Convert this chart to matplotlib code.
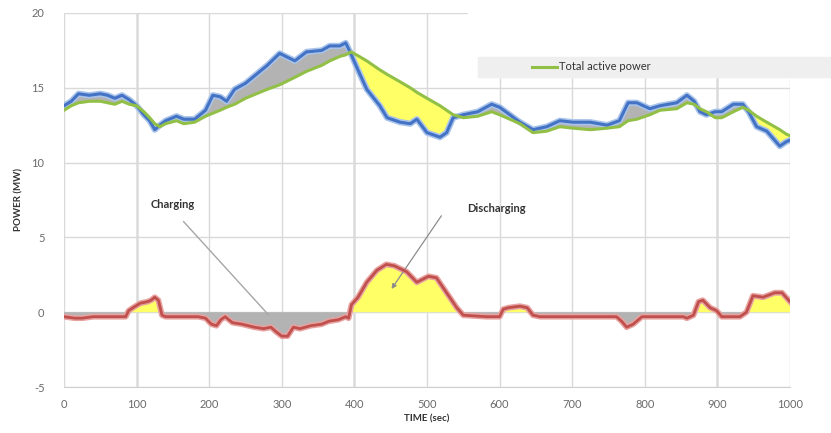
"""Total active power vs actual power with battery charge/discharge (recreated chart)."""
import matplotlib

matplotlib.use("Agg")
import matplotlib.pyplot as plt
import numpy as np
from matplotlib.patches import Rectangle

plt.rcParams["font.family"] = ["Lato", "DejaVu Sans"]
plt.rcParams["axes.unicode_minus"] = False

# upper panel: actual (blue) and smoothed total active power (green), same time base
time_up = [0, 10, 20, 35, 50, 60, 70, 80, 90, 100, 110, 118, 125, 132, 140, 155, 165,
           180, 195, 205, 215, 224, 235, 250, 265, 280, 297, 318, 334, 355, 366, 380,
           388, 395, 403, 417, 435, 445, 463, 477, 486, 500, 518, 527, 536, 550, 570,
           589, 600, 628, 646, 665, 683, 701, 725, 748, 765, 777, 789, 807, 821, 844,
           858, 868, 876, 885, 897, 906, 922, 935, 943, 954, 968, 986, 995, 1000]
actual_power = [13.8, 14.1, 14.6, 14.5, 14.6, 14.5, 14.3, 14.5, 14.2, 13.8, 13.2, 12.8,
                12.2, 12.5, 12.8, 13.1, 12.9, 12.9, 13.5, 14.5, 14.4, 14.1, 14.9, 15.3,
                15.9, 16.5, 17.3, 16.8, 17.4, 17.5, 17.8, 17.8, 18.0, 17.3, 16.4, 14.9,
                13.8, 13.0, 12.7, 12.6, 12.9, 12.0, 11.7, 12.0, 13.0, 13.2, 13.4, 13.9,
                13.7, 12.7, 12.2, 12.4, 12.8, 12.7, 12.7, 12.5, 12.8, 14.0, 14.0, 13.6,
                13.8, 14.0, 14.5, 14.1, 13.4, 13.2, 13.4, 13.4, 13.9, 13.9, 13.4, 12.4,
                12.1, 11.1, 11.4, 11.5]
total_active = [13.5, 13.8, 14.0, 14.1, 14.1, 14.0, 13.9, 14.1, 13.9, 13.8, 13.4, 13.0,
                12.6, 12.4, 12.6, 12.8, 12.6, 12.7, 13.1, 13.3, 13.5, 13.7, 13.9, 14.3,
                14.6, 14.9, 15.2, 15.7, 16.1, 16.5, 16.8, 17.1, 17.2, 17.4, 17.2, 16.8,
                16.2, 15.9, 15.4, 15.0, 14.7, 14.3, 13.8, 13.5, 13.2, 13.0, 13.1, 13.4,
                13.2, 12.6, 12.0, 12.1, 12.4, 12.3, 12.2, 12.3, 12.4, 12.8, 12.9, 13.2,
                13.5, 13.6, 14.0, 13.9, 13.6, 13.4, 13.0, 13.0, 13.4, 13.7, 13.5, 13.1,
                12.7, 12.2, 11.9, 11.8]

# lower panel: battery power
time_bat = [0, 15, 25, 40, 85, 89, 95, 105, 115, 120, 125, 130, 135, 140, 185, 195, 203,
            210, 216, 222, 232, 245, 262, 275, 285, 292, 300, 308, 316, 325, 340, 355,
            365, 378, 388, 392, 396, 405, 417, 431, 444, 455, 472, 486, 502, 513, 527,
            541, 550, 582, 600, 605, 612, 628, 638, 646, 656, 761, 768, 775, 784, 796,
            853, 858, 867, 874, 880, 890, 899, 906, 931, 940, 949, 963, 979, 989, 1000]
battery_power = [-0.3, -0.4, -0.4, -0.3, -0.3, 0.1, 0.3, 0.6, 0.7, 0.8, 1.0, 0.8, -0.2,
                 -0.3, -0.3, -0.4, -0.8, -0.9, -0.5, -0.3, -0.7, -0.8, -1.0, -1.1, -1.0,
                 -1.3, -1.6, -1.6, -1.0, -1.1, -0.9, -0.8, -0.6, -0.5, -0.3, -0.4, 0.5,
                 1.0, 2.0, 2.8, 3.2, 3.1, 2.7, 2.0, 2.4, 2.3, 1.3, 0.3, -0.2, -0.3, -0.3,
                 0.2, 0.3, 0.4, 0.3, -0.2, -0.3, -0.3, -0.6, -1.0, -0.8, -0.3, -0.3, -0.4,
                 -0.2, 0.7, 0.8, 0.3, 0.1, -0.3, -0.3, 0.0, 1.1, 1.0, 1.3, 1.3, 0.7]

x_ticks = [0, 100, 200, 300, 400, 500, 600, 700, 800, 900, 1000]
y_ticks = [-5, 0, 5, 10, 15, 20]

BLUE = "#4472c4"
GREEN = "#92c047"
RED = "#c0504d"
YELLOW = "#ffff66"
GREY = "#b3b3b3"


def main() -> None:
    fig = plt.figure(figsize=(8.31, 4.33), dpi=100)
    ax = fig.add_axes([64 / 831, 46 / 433, 726 / 831, 374 / 433])

    t = np.array(time_up)
    a = np.array(actual_power)
    g = np.array(total_active)
    ax.fill_between(t, a, g, where=a >= g, interpolate=True, color=GREY, lw=0, zorder=2)
    ax.fill_between(t, a, g, where=a <= g, interpolate=True, color=YELLOW, lw=0, zorder=2)
    ax.plot(t, a, color="#a9c4ea", lw=4.5, solid_joinstyle="round", zorder=3)
    ax.plot(t, a, color=BLUE, lw=2.2, solid_joinstyle="round", zorder=4)
    (green_line,) = ax.plot(t, g, color=GREEN, lw=2.2, solid_joinstyle="round", zorder=5,
                            label="Total active power")

    tb = np.array(time_bat)
    b = np.array(battery_power)
    ax.fill_between(tb, b, 0, where=b >= 0, interpolate=True, color=YELLOW, lw=0, zorder=2)
    ax.fill_between(tb, b, 0, where=b <= 0, interpolate=True, color=GREY, lw=0, zorder=2)
    ax.plot(tb, b, color="#e8a3a1", lw=4.2, solid_joinstyle="round", zorder=3)
    ax.plot(tb, b, color=RED, lw=2.0, solid_joinstyle="round", zorder=4)

    ax.set_xlim(0, 1000)
    ax.set_ylim(-5, 20)
    ax.set_xticks(x_ticks)
    ax.set_yticks(y_ticks)
    ax.grid(True, color="#d9d9d9", lw=1.0, zorder=0)
    for xv in (100, 400, 900):
        ax.axvline(xv, color="#858585", lw=1.0, zorder=1)
    for side in ("top", "right", "left"):
        ax.spines[side].set_visible(False)
    ax.spines["bottom"].set_color("#d0d0d0")
    ax.tick_params(axis="both", length=0, labelsize=8, labelcolor="#6a6a6a")
    ax.tick_params(axis="x", pad=9)
    ax.tick_params(axis="y", pad=14)
    ax.set_xlabel("TIME (sec)", fontsize=7, fontweight="bold", color="#333333", labelpad=3)
    ax.set_ylabel("POWER (MW)", fontsize=7, fontweight="bold", color="#333333", labelpad=6)

    ax.text(150, 7.2, "Charging", fontsize=8, fontweight="bold", color="#333333",
            ha="center", va="center")
    ax.annotate("", xy=(284, -0.3), xytext=(162, 6.2),
                arrowprops=dict(arrowstyle="-", color="#a6a6a6", lw=1.0))
    ax.text(596, 6.9, "Discharging", fontsize=8, fontweight="bold", color="#333333",
            ha="center", va="center")
    ax.annotate("", xy=(449, 1.4), xytext=(522, 6.6),
                arrowprops=dict(arrowstyle="-|>", color="#8c8c8c", lw=0.9,
                                mutation_scale=7))

    # blank top-right corner and the grey legend strip
    fig.patches.append(Rectangle((468 / 831, 1 - 77 / 433), 1, 77 / 433,
                                 transform=fig.transFigure, color="white", zorder=5))
    fig.patches.append(Rectangle((478 / 831, 1 - 77 / 433), 353 / 831, 20 / 433,
                                 transform=fig.transFigure, color="#efefef", zorder=6))
    leg = fig.legend(handles=[green_line], loc="center left",
                     bbox_to_anchor=(528 / 831, 1 - 67 / 433), frameon=False,
                     fontsize=8, handlelength=2.2, handletextpad=0.15,
                     borderaxespad=0, labelcolor="#333333")
    leg.set_zorder(7)

    fig.savefig("out.png", dpi=100)
    plt.close(fig)


if __name__ == "__main__":
    main()
